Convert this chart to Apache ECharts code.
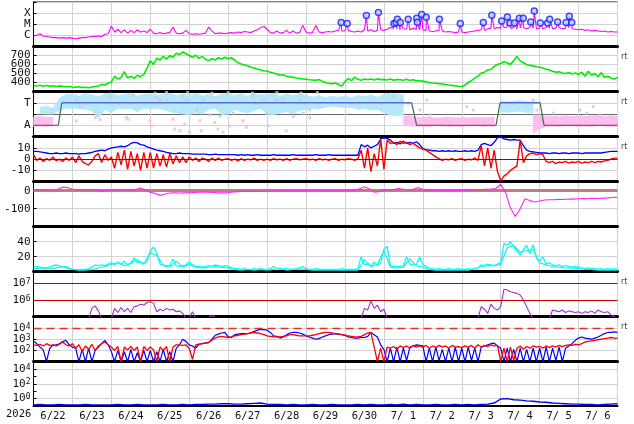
<!DOCTYPE html>
<html><head><meta charset="utf-8">
<script src="https://cdn.jsdelivr.net/npm/echarts@6/dist/echarts.min.js"></script>
<style>html,body{margin:0;padding:0;background:#fff}#c{width:634px;height:424px}</style>
</head><body><div id="c"></div>
<script>
// ---------------- DATA ----------------
const YEAR_LABEL = '2026';
const DAY_LABELS = ['6/22','6/23','6/24','6/25','6/26','6/27','6/28','6/29','6/30','7/ 1','7/ 2','7/ 3','7/ 4','7/ 5','7/ 6'];
const SPAN_HOURS = 360;               // 15 days from 6/22 00:00
const RT_PANELS = [1, 2, 3, 6, 7];    // panels carrying the "rt" tag
const RT_TEXT = 'rt';

// Panel 1: X-ray flux, log10(W/m2), every 2 h
const xrayLog = [
 -6.05,-6.0,-5.85,-6.05,-6.1,-6.15,-6.2,-6.2,-6.25,-6.2,-6.25,-6.2,
 -6.25,-6.3,-6.25,-6.2,-6.2,-6.15,-6.1,-6.1,-6.05,-6.1,-5.9,-5.85,
 -5.15,-5.7,-5.45,-5.75,-5.5,-5.8,-5.55,-5.75,-5.5,-5.7,-5.6,-5.75,
 -5.45,-5.8,-5.85,-5.75,-5.85,-5.8,-5.75,-5.25,-5.8,-5.85,-5.8,-5.55,
 -5.85,-5.9,-5.85,-5.9,-5.85,-5.8,-5.25,-5.6,-5.85,-5.8,-5.8,-5.85,
 -5.8,-5.75,-5.8,-5.7,-5.75,-5.65,-5.7,-5.75,-5.6,-5.5,-5.3,-5.2,
 -5.45,-5.75,-5.8,-5.6,-5.8,-5.75,-5.55,-5.8,-5.6,-5.8,-5.75,-5.1,
 -5.7,-5.8,-5.75,-5.1,-5.7,-5.75,-5.7,-5.65,-5.7,-5.6,-5.55,-5.6,
 -5.6,-5.55,-5.65,-5.7,-5.6,-5.7,-5.5,-5.6,-5.5,-5.65,-5.55,-5.5,
 -5.55,-5.45,-5.3,-5.35,-5.4,-5.5,-5.4,-5.45,-5.5,-5.35,-5.45,-5.5,
 -5.5,-5.55,-5.6,-5.65,-5.6,-5.55,-5.6,-5.7,-5.65,-5.7,-5.75,-5.7,
 -5.7,-5.75,-5.7,-5.65,-5.6,-5.55,-5.5,-5.55,-5.4,-5.35,-5.4,-5.3,
 -5.35,-5.3,-5.25,-5.35,-5.3,-5.4,-5.35,-5.3,-5.4,-5.3,-5.35,-5.4,
 -5.35,-5.4,-5.3,-5.35,-5.4,-5.35,-5.3,-5.4,-5.35,-5.3,-5.4,-5.45,
 -5.5,-5.45,-5.55,-5.5,-5.6,-5.55,-5.6,-5.65,-5.6,-5.7,-5.65,-5.7,
 -5.7];
const flareHours = [189.7,193.4,205.2,212.6,222.2,223.5,224.3,226.1,231.0,236.2,236.6,239.3,242.1,250.2,263.1,277.3,282.5,288.6,292.1,293.7,296.4,299.5,301.9,306.5,308.7,312.4,316.9,318.2,323.1,328.3,330.3,331.8];
const flarePeakLog = [-4.85,-4.94,-4.21,-3.94,-4.94,-4.85,-4.55,-4.85,-4.55,-4.45,-4.82,-4.12,-4.36,-4.55,-4.94,-4.85,-4.18,-4.70,-4.34,-4.88,-4.88,-4.45,-4.45,-4.79,-3.82,-4.88,-4.88,-4.55,-4.79,-4.85,-4.27,-4.85];
const XRAY_CLASS = {'-6': 'C', '-5': 'M', '-4': 'X'};

// Panel 2: solar wind speed km/s, every 2 h
const windSpeed = [
 368,362,370,358,366,360,364,355,362,358,352,356,
 350,346,352,344,348,342,350,356,362,378,372,392,
 405,470,440,455,520,450,470,445,480,465,490,560,
 640,600,670,650,690,660,700,680,725,710,740,720,
 700,680,705,670,690,660,640,665,650,675,660,680,
 665,675,650,620,605,595,585,570,560,550,540,530,
 525,515,505,495,480,485,470,462,458,450,445,440,
 436,430,428,424,432,415,400,392,385,395,378,360,
 410,445,420,460,435,425,440,430,438,428,440,432,
 435,428,438,426,432,430,425,436,422,430,418,420,
 415,408,400,395,392,388,384,378,372,368,362,358,
 356,372,400,420,450,470,505,515,540,545,580,600,
 610,630,620,600,645,690,640,620,600,590,585,575,
 570,560,548,540,525,515,520,505,500,510,495,505,
 490,515,470,525,480,500,465,510,455,470,450,440,
 455];

// Panel 3: IMF sector (T = +1, A = -1)
const sectorHours = [0, 15.3, 17.4, 233.1, 236.2, 285.1, 287.6, 312.3, 314.7, 360];
const sectorSide  = [-1, -1, 1, 1, -1, -1, 1, 1, -1, -1];
// angle clouds every 4 h (sector units)
const towardHigh = [
 null,0.6,0.7,0.5,1.4,1.75,  1.8,1.6,1.85,1.7,1.55,1.8,  1.85,1.65,1.75,1.85,1.6,1.75,
 1.8,1.6,1.75,1.85,1.65,1.8,  1.7,1.85,1.6,1.8,1.55,1.8,  1.8,1.65,1.85,1.6,1.8,1.7,
 1.75,1.85,1.6,1.8,1.65,1.8,  1.7,1.5,1.65,1.45,1.6,1.5,  1.6,1.45,1.65,1.55,1.7,1.5,
 1.75,1.85,1.8,1.7,null,null,  null,null,null,null,null,null,  null,null,null,null,null,null,
 1.2,1.1,1.15,1.2,1.1,1.1,  null,null,null,null,null,null,  null,null,null,null,null,null,
 null];
const towardLow = [
 null,0.1,0.0,0.0,0.3,0.5,  0.5,0.45,0.4,0.3,-0.35,0.4,  0.1,0.5,0.45,0.5,0.2,0.5,
 0.45,0.5,0.4,0.2,0.1,0.0,  -0.05,0.1,0.0,0.4,0.5,-0.05,  0.0,0.4,0.2,0.1,0.3,0.5,
 0.0,-0.05,0.1,0.2,0.0,0.3,  0.4,0.5,0.45,0.6,0.7,0.65,  0.55,0.6,0.4,0.5,0.35,0.4,
 0.1,-0.1,-0.15,-0.1,null,null,  null,null,null,null,null,null,  null,null,null,null,null,null,
 0.2,0.15,0.2,0.25,0.15,0.1,  null,null,null,null,null,null,  null,null,null,null,null,null,
 null];
const awayHigh = [
 -0.25,-0.2,-0.3,-0.25,null,null,  null,null,null,null,null,null,  null,null,null,null,null,null,
 null,null,null,null,null,null,  null,null,null,null,null,null,  null,null,null,null,null,null,
 null,null,null,null,null,null,  null,null,null,null,null,null,  null,null,null,null,null,null,
 null,null,null,-0.2,-0.15,-0.25,  -0.3,-0.25,-0.35,-0.3,-0.25,-0.3,  -0.3,-0.35,-0.25,-0.3,-0.3,-0.25,
 null,null,null,null,null,-0.05,  -0.1,-0.2,-0.15,-0.2,-0.15,-0.2,  -0.15,-0.2,-0.15,-0.1,-0.2,-0.15,
 -0.2];
const awayLow = [
 -1.1,-1.05,-1.1,-1.0,null,null,  null,null,null,null,null,null,  null,null,null,null,null,null,
 null,null,null,null,null,null,  null,null,null,null,null,null,  null,null,null,null,null,null,
 null,null,null,null,null,null,  null,null,null,null,null,null,  null,null,null,null,null,null,
 null,null,null,-0.9,-1.05,-1.1,  -1.05,-1.1,-1.0,-1.05,-1.1,-1.05,  -1.1,-1.05,-1.0,-1.1,-1.05,-1.1,
 null,null,null,null,null,-1.7,  -1.3,-1.1,-1.05,-1.1,-1.0,-1.05,  -1.1,-1.05,-1.1,-1.0,-1.05,-1.1,
 -1.05];
const grayDotH = [26.6,28.7,39,41,47.2,53.3,61.5,75.9,78,82.1,91.4,94.4,100.6,104.7,108.8,115,123.2,135.5,141.7,143.7,149.9,154,160.2,164.3,166.3,170.4,221.8,227,231,238.3,242.4,244.4,267,271.1,308.1,310.2,313.3,320.4,336.9,341,345.1,349.2,75,82,95,110,120,135,150,165,175];
const grayDotV = [1.23,0.66,-0.06,-0.49,1.52,0.95,1.66,1.52,1.23,1.23,1.52,1.23,0.37,1.23,-0.06,-0.2,0.09,1.52,1.23,0.09,1.23,1.38,-0.2,1.23,0.09,0.37,1.52,1.23,0.95,0.37,1.23,-0.06,0.66,0.37,1.23,0.37,-0.49,0.09,0.37,0.09,0.66,-0.06,1.85,1.9,1.9,1.85,1.9,1.85,1.9,1.85,1.9];
const pinkDotH = [26.4,38.1,57.2,58.3,71.6,72.6,86,87,90.1,93.2,96.3,102.5,103.5,111.7,113.7,116.8,120.9,129.1,131.2,144.6,155.8,170.3];
const pinkDotV = [-0.6,-0.32,-0.32,-0.46,-0.6,-1.03,-0.46,-1.33,-1.47,-0.9,-1.61,-0.6,-1.47,-0.75,-1.33,-1.61,-1.03,-0.6,-1.18,-1.03,-1.47,-0.32];

// Panel 4: IMF Bt and Bz (nT), every 2 h
const imfBt = [
 7,7,6.5,6,5.5,5,5,5.5,5,5,5.5,5,
 5,5,4.5,5,5,5.5,6,7,7.5,8,7.5,9,
 10,10.5,11,11.5,11,12,14,15,14.5,13,12.5,11,
 10,9,8,7.5,7,6,5.5,5,5,5.5,5,5,
 5,4.5,4.5,4.5,4.5,4.5,4,4,4.5,4,4,4,
 4,4,4,3.5,4,3.5,4,3.5,3.5,4,3.5,3.5,
 3.5,3.5,4,3.5,3.5,3.5,3.5,3.5,4,3.5,3.5,3.5,
 3.5,3.5,3.5,4,3.5,3.5,3.5,4,3.5,3.5,3.5,3.5,
 3.5,3.5,3.5,3.5,3.5,13,11,12.5,10,11.5,13,18,
 19,18.5,17,14,15,13.5,16,14,15,14,15.5,13,
 9.5,8.5,8,7.5,7.5,7,7.5,7,7.5,7,7.5,7,
 7,7.5,7,7.5,7,8,13,14,13,12,15,19,
 20,18,17.5,17,17.5,17,17,12,8,7,6.5,6,
 5.5,5.5,5.5,5,5.5,5.5,5,5.5,5.5,5,5.5,5.5,
 5.5,5,5.5,5.5,5.5,5.5,5.5,5.5,6,6.5,7,7,
 7];
const imfBz = [
 4,-1,1,-2,0.5,-1,2,-1.5,0,-2,1,-1,
 2,-3,3,-2,-4,-5,-2,3,5,-3,4,-1,
 2,-8,6,-5,8,-9,7,-6,5,-10,6,-8,
 6,-8,5,-6,4,-7,5,-4,3,-3,2,-3,
 2,-1,1,-2,1,0,-2,1,-1,1,-1,0,
 0.5,-1,0,-1.5,0.5,-1,0,-0.5,1,-1,0,-1,
 0,-1,0.5,-0.5,0,-1,0.5,-1,0,0.5,-0.5,0,
 0.5,-0.5,0,-1,0.5,-0.5,0,-1,0,0.5,-1,0,
 -0.5,0.5,0,-1,0.5,8,-8,10,-11,5,-6,18,
 -9,17,14,15,13,16,14,15,13,14,12,10,
 9,8,6,4,2,0.5,-1,0,-0.5,0.5,-1,0,
 0.5,-1,0,-0.5,1,-1,12,-6,10,-8,8,-11,
 -19,-15,-13,-10,-8,-6,17,-3,3,5,5.5,4,
 5,4,-2,-3,-2,-4,-2.5,-3,-2,-3.5,-2.5,-3,
 -2,-3.5,-2.5,-3,-2,-3,-2,-2.5,-1.5,-1,0,1,
 1];

// Panel 5: Dst (nT), every 3 h
const dstIndex = [
 5,6,5,4,5,8,20,18,
 8,6,5,6,5,4,-3,2,
 4,4,5,4,3,6,15,2,
 -8,-16,-26,-20,-13,-12,-13,-11,
 -12,-10,-9,-8,-9,-10,-12,-12,
 -11,-7,-5,-4,-3,-2,-4,-3,
 -2,-1,0,-2,-1,0,1,-1,
 0,0,1,0,-1,0,-1,0,
 0,1,2,10,22,10,-8,-6,
 2,5,6,12,8,4,6,18,
 6,3,1,0,1,0,2,3,
 2,4,3,5,7,8,9,12,
 35,-10,-95,-143,-100,-45,-55,-63,
 -57,-52,-50,-50,-48,-49,-46,-47,
 -45,-44,-45,-42,-43,-41,-40,-38,
 -36];

// Panel 6: cyan index, trace A every 2 h, trace B every 4 h
const cyanA = [
 6,7,6,5,5,6,8,9,8,6,5,4,
 3,3,2.5,3,3,4,6,9,8,9,8,10,
 12,9,13,10,14,9,12,18,12,13,11,14,
 28,33,25,10,9,8,8,17,8,7,8,9,
 13,9,7,7,6,7,8,7,9,8,7,8,
 7,5,4,4,3,4,3,3,4,3,4,3,
 3,4,7,4,3,3,4,3,3,4,5,7,
 4,3,3,4,3,3,3,3,3,3,3,4,
 3,3,3,3,4,20,9,10,7,13,8,12,
 30,34,8,7,7,7,8,20,10,9,9,20,
 9,7,5,4,3,4,3,3,4,3,3,4,
 3,3,4,3,4,5,9,8,10,9,8,10,
 12,38,35,40,33,28,22,30,35,24,36,18,
 14,20,10,12,9,8,9,7,8,7,6,7,
 6,5,4,5,4,4,3,4,3,4,3,4,
 3];
const cyanB = [
 4,5,4,4,6,7,  3,2,2,3,5,7,  10,12,8,11,16,10,  25,22,8,6,14,6,  10,6,5,6,7,6,
 5,3,2,3,2,3,  2,3,5,2,3,4,  3,2,2,2,2,2,  2,2,2,16,7,10,  28,6,5,6,17,8,
 6,3,2,2,2,2,  2,2,4,7,8,8,  10,32,35,26,28,30,  12,9,7,6,5,5,  4,3,3,2,2,2,
 2];

// Panel 7: electron flux log10, every 2 h (null = no data)
const electronLog = [
 null,null,null,null,null,null,null,null,null,null,null,null,
 null,null,null,null,null,4.9,5.5,5.65,5.35,4.9,null,null,
 4.9,5.5,5.25,5.55,5.3,5.5,5.25,5.6,5.65,5.75,5.7,5.85,
 5.9,5.8,5.3,5.45,5.35,5.5,5.4,5.45,5.3,5.35,5.2,4.9,
 4.95,5.3,4.9,null,null,null,4.95,5.1,4.95,null,null,null,
 null,null,null,null,null,null,null,null,null,null,null,null,
 null,null,null,null,null,null,null,null,null,null,null,null,
 null,null,null,null,null,null,null,null,null,null,null,null,
 null,null,null,null,null,4.9,5.5,5.4,5.95,5.5,5.7,5.3,
 5.45,4.9,null,null,null,null,null,null,null,null,null,null,
 null,null,null,null,null,null,null,null,null,null,null,null,
 null,null,null,null,null,4.9,5.6,5.45,5.2,5.75,5.5,5.4,
 5.6,6.65,6.6,6.5,6.45,6.4,6.3,6.0,5.6,5.2,4.9,null,
 null,null,null,4.9,5.4,5.35,5.3,5.4,5.25,5.35,5.3,5.25,
 5.3,5.2,5.3,5.25,5.35,5.2,5.4,5.3,5.25,5.3,5.1,5.0,
 4.9];
const ELECTRON_ALERTS_LOG = [6, 7];

// Panel 8: particle flux log10, blue and red traces, every 2 h
const fluxBlueLog = [
 2.85,2.6,2.3,2.05,1.0,2.2,2.45,2.5,2.6,2.8,2.9,2.5,
 2.3,2.2,1.0,2.1,1.0,2.2,1.0,2.0,2.3,2.6,2.9,2.5,
 1.9,1.0,2.0,1.0,1.9,1.0,2.1,1.0,1.8,1.0,2.0,1.0,
 2.0,1.0,1.9,1.0,2.1,1.0,1.9,1.0,2.2,2.5,3.0,2.8,
 2.5,2.4,2.2,2.55,2.6,2.65,2.7,3.0,3.35,3.45,3.55,3.6,
 3.2,3.15,3.4,3.45,3.5,3.5,3.5,3.55,3.7,3.8,3.87,3.85,
 3.8,3.6,3.3,3.25,3.1,3.2,3.4,3.55,3.6,3.6,3.55,3.45,
 3.3,3.2,3.1,3.0,3.05,3.2,3.3,3.4,3.45,3.5,3.45,3.4,
 3.35,3.2,3.15,3.1,3.1,3.15,3.15,3.25,3.6,3.4,3.2,2.5,
 2.1,1.0,2.2,1.0,2.3,1.0,2.2,1.1,2.3,2.4,2.5,2.45,
 2.4,1.0,2.2,1.0,2.3,1.1,2.1,1.0,2.2,1.0,2.3,1.0,
 2.2,1.0,2.3,1.1,2.2,1.0,2.3,2.4,2.5,2.6,2.65,2.4,
 2.2,1.0,2.2,1.0,2.1,1.0,2.2,1.0,2.1,1.0,2.2,1.0,
 2.2,1.0,2.3,1.0,2.2,1.1,2.3,1.0,2.2,2.4,2.6,2.9,
 3.1,3.2,3.1,3.05,3.0,3.1,3.2,3.35,3.5,3.6,3.6,3.65,
 3.6];
const fluxRedLog = [
 2.5,2.45,2.55,2.4,2.6,2.45,2.5,2.4,2.55,2.75,2.5,2.4,
 2.6,2.2,2.5,1.9,2.4,2.1,2.55,2.0,2.4,2.6,2.75,2.5,
 2.3,2.0,2.35,1.0,2.3,2.05,2.35,2.0,2.3,1.0,2.35,2.0,
 2.3,2.05,1.0,2.3,2.0,2.35,1.0,2.3,2.5,2.5,2.45,2.5,
 2.2,1.2,2.5,2.55,2.6,2.65,2.75,2.9,3.1,3.2,3.25,3.2,
 3.15,3.2,3.3,3.35,3.4,3.45,3.5,3.55,3.6,3.55,3.5,3.4,
 3.3,3.25,3.2,3.2,3.2,3.25,3.3,3.4,3.4,3.35,3.3,3.3,
 3.3,3.3,3.35,3.4,3.5,3.55,3.6,3.6,3.55,3.5,3.45,3.4,
 3.35,3.3,3.25,3.2,3.2,3.25,3.4,3.55,3.6,2.3,1.0,2.2,
 1.0,2.3,2.2,2.35,2.1,2.4,2.25,2.4,2.2,2.45,2.3,2.4,
 2.3,2.45,2.2,2.4,2.25,2.45,2.3,2.4,2.2,2.45,2.3,2.35,
 2.25,2.4,2.3,2.45,2.2,2.5,2.3,2.45,2.35,2.5,2.4,2.45,
 1.0,2.2,1.0,2.3,1.1,2.2,2.4,2.1,2.35,2.2,2.4,2.3,
 2.35,2.2,2.4,2.25,2.4,2.3,2.45,2.35,2.45,2.5,2.45,2.55,
 2.5,2.6,2.75,2.8,2.85,2.9,2.95,3.0,3.05,3.1,3.15,3.1,
 3.1];
const FLUX_ALERT_LOG = 4;

// Panel 9: bottom flux log10, every 4 h
const bottomLog = [
 -0.85,-0.8,-0.85,-0.85,-0.8,-0.85,  -0.85,-0.85,-0.8,-0.85,-0.85,-0.85,  -0.85,-0.8,-0.85,-0.85,-0.8,-0.85,
 -0.85,-0.85,-0.8,-0.85,-0.85,-0.8,  -0.85,-0.8,-0.8,-0.75,-0.75,-0.7,  -0.7,-0.75,-0.75,-0.7,-0.65,-0.6,
 -0.75,-0.8,-0.8,-0.85,-0.8,-0.85,  -0.85,-0.8,-0.85,-0.85,-0.8,-0.85,  -0.85,-0.85,-0.8,-0.85,-0.8,-0.85,
 -0.85,-0.8,-0.85,-0.75,-0.85,-0.8,  -0.85,-0.85,-0.8,-0.85,-0.85,-0.8,  -0.85,-0.8,-0.85,-0.8,-0.75,-0.6,
 -0.05,0.0,-0.15,-0.2,-0.3,-0.35,  -0.45,-0.5,-0.6,-0.65,-0.7,-0.75,  -0.75,-0.8,-0.8,-0.85,-0.8,-0.75,
 -0.7];

// ---------------- LAYOUT / STYLE ----------------
const MONO = 'DejaVu Sans Mono';
const LEFT = 33.5, RIGHT_EDGE = 617.5;
const EDGES = [2, 46.5, 91.5, 136.7, 181.7, 226.7, 271.7, 316.7, 361.7, 406];
const GRID_C = '#d2d2d2', CLEAR = 'rgba(0,0,0,0)';

const seq = (arr, step) => arr.map((v, i) => [i * step, v]);
const pairs = (hs, vs) => hs.map((h, i) => [h, vs[i]]);

const grids = [], xAxes = [], yAxes = [], series = [];
for (let i = 0; i < 9; i++) {
  grids.push({left: LEFT, width: RIGHT_EDGE - LEFT, top: EDGES[i], height: EDGES[i + 1] - EDGES[i],
    show: true, borderColor: '#000', borderWidth: 1});
  const last = i === 8;
  xAxes.push({gridIndex: i, type: 'value', min: 0, max: SPAN_HOURS, interval: 12,
    axisLine: {show: true, onZero: false, lineStyle: {color: '#000', width: last ? 2 : 3}},
    axisTick: {show: false},
    axisLabel: {show: last, fontFamily: MONO, fontSize: 10.5, color: '#111', margin: 5,
      formatter: v => (v % 24 === 12 ? DAY_LABELS[(v - 12) / 24] : '')},
    splitLine: {show: true, lineStyle: {color: [GRID_C, CLEAR], width: 1}}});
}
const supRich = {b: {fontFamily: MONO, fontSize: 11, color: '#111'},
                 s: {fontFamily: MONO, fontSize: 8, color: '#111', verticalAlign: 'top'}};
const supFmt = keep => v => (keep.includes(v) ? '{b|10}{s|' + v + '}' : '');
function yAx(i, min, max, interval, fmt, splitColors, rich) {
  yAxes.push({gridIndex: i, type: 'value', min, max, interval,
    axisLine: {show: true, lineStyle: {color: '#000', width: 1}},
    axisTick: {show: true, inside: true, length: 3, lineStyle: {color: '#000'}},
    axisLabel: {formatter: fmt, fontFamily: MONO, fontSize: 11, color: '#111', margin: 3, rich},
    splitLine: {show: true, lineStyle: {color: splitColors || GRID_C, width: 1}}});
}
yAx(0, -7, -3, 1, v => XRAY_CLASS[String(v)] || '');
yAx(1, 300, 800, 100, v => (v >= 400 && v <= 700 ? String(v) : ''));
yAx(2, -2, 2, 1, v => (v === 1 ? 'T' : v === -1 ? 'A' : ''), [CLEAR, GRID_C, '#6a6a6a', GRID_C, CLEAR]);
yAx(3, -20, 20, 10, v => (Math.abs(v) <= 10 ? String(v) : ''));
yAx(4, -200, 50, 100, v => (v === 0 || v === -100 ? String(v) : ''));
yAx(5, 0, 60, 20, v => (v === 20 || v === 40 ? String(v) : ''));
yAx(6, 5, 7.7, 1, supFmt([6, 7]), null, supRich);
yAx(7, 1, 5, 1, supFmt([2, 3, 4]), null, supRich);
yAx(8, -1, 5, 1, supFmt([0, 2, 4]), [CLEAR, GRID_C], supRich);

const line = (g, data, color, width, extra) => Object.assign({type: 'line', xAxisIndex: g, yAxisIndex: g,
  data, symbol: 'none', lineStyle: {color, width}, silent: true, connectNulls: false, z: 3}, extra || {});

// Panel 1
const xrayLine = seq(xrayLog, 2).concat(pairs(flareHours, flarePeakLog)).sort((a, b) => a[0] - b[0]);
series.push(line(0, xrayLine, '#ff00ff', 1.1));
series.push({type: 'scatter', xAxisIndex: 0, yAxisIndex: 0, data: pairs(flareHours, flarePeakLog),
  symbol: 'circle', symbolSize: 6, silent: true, z: 5,
  itemStyle: {color: '#c9d2ff', borderColor: '#1020ff', borderWidth: 1.5}});
// Panel 2
series.push(line(1, seq(windSpeed, 2), '#00ee00', 1.6));
// Panel 3 clouds: low/high envelope drawn as polygons through the axis scale
function band(low, high, step, color) {
  const segs = [];
  for (let i = 0; i < low.length - 1; i++) {
    if ([low[i], high[i], low[i + 1], high[i + 1]].some(v => v == null)) continue;
    segs.push([i * step, low[i], high[i], (i + 1) * step, low[i + 1], high[i + 1]]);
  }
  series.push({type: 'custom', xAxisIndex: 2, yAxisIndex: 2, data: segs, silent: true, z: 1,
    encode: {x: [0, 3], y: [1, 2, 4, 5]},
    renderItem: (params, api) => {
      const pts = [api.coord([api.value(0), api.value(1)]), api.coord([api.value(3), api.value(4)]),
                   api.coord([api.value(3), api.value(5)]), api.coord([api.value(0), api.value(2)])];
      return {type: 'polygon', shape: {points: pts}, style: {fill: color, stroke: color, lineWidth: 0.6}};
    }});
}
band(towardLow, towardHigh, 4, '#b4e8fa');
band(awayLow, awayHigh, 4, '#f8bff0');
series.push({type: 'scatter', xAxisIndex: 2, yAxisIndex: 2, data: pairs(grayDotH, grayDotV), symbol: 'rect',
  symbolSize: 3, silent: true, z: 2, itemStyle: {color: '#cccccc'}});
series.push({type: 'scatter', xAxisIndex: 2, yAxisIndex: 2, data: pairs(pinkDotH, pinkDotV), symbol: 'rect',
  symbolSize: 3, silent: true, z: 2, itemStyle: {color: '#f6b4ee'}});
function sectorSeg(kind) {
  const out = [];
  for (let i = 0; i < sectorHours.length - 1; i++) {
    const a = sectorSide[i], b = sectorSide[i + 1];
    const k = a === b ? (a > 0 ? 'T' : 'A') : 'X';
    if (k === kind) out.push([sectorHours[i], a], [sectorHours[i + 1], b], [sectorHours[i + 1], null]);
  }
  return out;
}
series.push(line(2, sectorSeg('T'), '#5a66ee', 1.4));
series.push(line(2, sectorSeg('A'), '#ee3030', 1.4));
series.push(line(2, sectorSeg('X'), '#3f6e45', 1.2));
// Panel 4
series.push(line(3, seq(imfBt, 2), '#0000ff', 1.3));
series.push(line(3, seq(imfBz, 2), '#ff0000', 1.4, {markLine: {silent: true, symbol: 'none', label: {show: false},
  lineStyle: {color: '#a00000', width: 1.2, type: 'solid'}, data: [{yAxis: 0}]}}));
// Panel 5
series.push(line(4, seq(dstIndex, 3), '#ff22ff', 1.1, {markLine: {silent: true, symbol: 'none', label: {show: false},
  lineStyle: {color: '#c87a7a', width: 3, type: 'solid'}, z: 2, data: [{yAxis: 0}]}}));
// Panel 6
series.push(line(5, seq(cyanB, 4), '#00f0f0', 1.1));
series.push(line(5, seq(cyanA, 2), '#00ffff', 1.3));
// Panel 7
series.push(line(6, seq(electronLog, 2), '#a030d0', 1.1, {markLine: {silent: true, symbol: 'none', label: {show: false},
  lineStyle: {color: '#c00000', width: 1.2, type: 'solid'}, data: ELECTRON_ALERTS_LOG.map(v => ({yAxis: v}))}}));
// Panel 8
series.push(line(7, seq(fluxBlueLog, 2), '#0000ff', 1.2, {markLine: {silent: true, symbol: 'none', label: {show: false},
  lineStyle: {color: '#e03030', width: 1.3, type: [8, 5]}, data: [{yAxis: FLUX_ALERT_LOG}]}}));
series.push(line(7, seq(fluxRedLog, 2), '#ff0000', 1.3));
// Panel 9
series.push(line(8, seq(bottomLog, 4), '#0000ff', 1.4));

const graphic = [{type: 'text', left: 6, top: 409, style: {text: YEAR_LABEL, font: '10.5px "DejaVu Sans Mono"', fill: '#111'}}]
  .concat(RT_PANELS.map(p => ({type: 'text', left: 621, top: EDGES[p] + 6,
    style: {text: RT_TEXT, font: '8px "DejaVu Sans"', fill: '#444'}})));

const chart = echarts.init(document.getElementById('c'), null, {renderer: 'canvas'});
chart.setOption({animation: false, backgroundColor: '#fff', grid: grids, xAxis: xAxes, yAxis: yAxes, series, graphic});
</script></body></html>
